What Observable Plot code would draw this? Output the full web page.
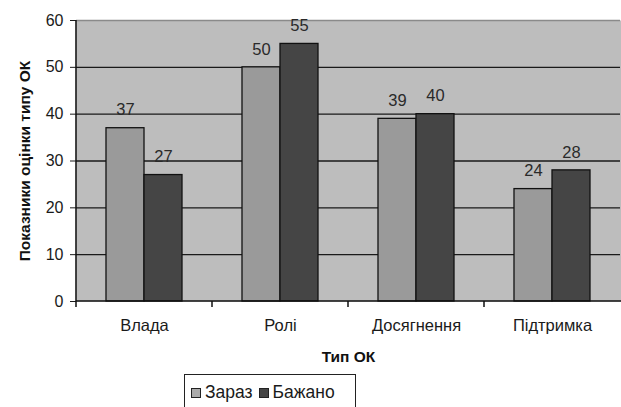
<!DOCTYPE html>
<html><head><meta charset="utf-8">
<script src="https://cdn.jsdelivr.net/npm/d3@7"></script>
<script src="https://cdn.jsdelivr.net/npm/@observablehq/plot@0.6"></script>
<style>
body{margin:0;background:#fff;font-family:"Liberation Sans",Arial,sans-serif;overflow:hidden;}
#chart svg{display:block;}
g[aria-label="fx-axis label"] text{font-weight:bold;font-size:15.5px;fill:#111;}
g[aria-label="y-axis label"] text{font-weight:bold;font-size:15.5px;fill:#111;}
#legend{position:absolute;left:184px;top:374px;width:172px;height:40px;border:1px solid #222;box-sizing:border-box;
  font-size:17.5px;color:#1a1a1a;display:flex;align-items:flex-start;padding:7px 0 0 6px;gap:2px;}
#legend span.item{display:flex;align-items:center;gap:4px;margin-right:4px;}
#legend span.sw{display:inline-block;width:8px;height:8px;border:1.5px solid #222;}
</style></head><body>
<div id="chart"></div>
<div id="legend"></div>
<script>
const categories = ["Влада", "Ролі", "Досягнення", "Підтримка"];
const seriesNames = ["Зараз", "Бажано"];
const zarazValues = [37, 50, 39, 24];
const bazhanoValues = [27, 55, 40, 28];
const yTicks = [0, 10, 20, 30, 40, 50, 60];
const seriesColors = ["#9a9a9a", "#454545"];

const data = categories.flatMap((c, i) => [
  {category: c, series: seriesNames[0], value: zarazValues[i]},
  {category: c, series: seriesNames[1], value: bazhanoValues[i]}
]);

const plot = Plot.plot({
  width: 621, height: 372,
  marginLeft: 74, marginRight: 0, marginTop: 20, marginBottom: 71,
  style: {fontFamily: "Liberation Sans, Arial, sans-serif", fontSize: "15px", color: "#1a1a1a", background: "#fff"},
  fx: {domain: categories, padding: 0},
  x: {domain: seriesNames, padding: 0, paddingOuter: 0.786, axis: null},
  y: {domain: [0, 60]},
  color: {domain: seriesNames, range: seriesColors},
  marks: [
    Plot.frame({fill: "#bdbdbd", stroke: null, insetLeft: -1, insetRight: -1}),
    Plot.gridY(yTicks.filter(d => d > 0 && d < 60), {stroke: "#1a1a1a", strokeOpacity: 1, strokeWidth: 1.3}),
    Plot.gridY([60], {stroke: "#8a8a8a", strokeOpacity: 1, strokeWidth: 1.3}),
    Plot.barY(data, {fx: "category", x: "series", y: "value", fill: "series", stroke: "#111", strokeWidth: 1.3}),
    Plot.text(data, {fx: "category", x: "series", y: "value", text: d => String(d.value), dy: -18, fontSize: 16.5, fill: "#2a2a2a"}),
    Plot.axisY(yTicks, {tickSize: 6, tickPadding: 7, fontSize: 16, fill: "#1a1a1a", label: "Показники оцінки типу ОК", labelAnchor: "center", labelOffset: 58, labelArrow: "none"}),
    Plot.axisFx({anchor: "bottom", tickSize: 0, tickPadding: 18, fontSize: 16.5, fill: "#1a1a1a", label: "Тип ОК", labelAnchor: "center", labelOffset: 60, labelArrow: "none"})
  ]
});
document.getElementById("chart").appendChild(plot);

// axis line and category boundary ticks (Excel style), from the plot's own scales
const fx = plot.scale("fx"), y = plot.scale("y");
const svg = d3.select(plot);
const y0 = y.apply(0), yTop = y.apply(60);
const x0 = fx.apply(categories[0]);
svg.append("line").attr("x1", x0).attr("x2", x0).attr("y1", yTop).attr("y2", y0 + 6).attr("stroke", "#111").attr("stroke-width", 1.5);
svg.append("line").attr("x1", x0).attr("x2", 621).attr("y1", y0).attr("y2", y0).attr("stroke", "#111").attr("stroke-width", 1.5);
categories.slice(1).forEach(c => {
  const xx = fx.apply(c);
  svg.append("line").attr("x1", xx).attr("x2", xx).attr("y1", y0).attr("y2", y0 + 6).attr("stroke", "#111").attr("stroke-width", 1.5);
});

const legend = d3.select("#legend");
seriesNames.forEach((s, i) => {
  const it = legend.append("span").attr("class", "item");
  it.append("span").attr("class", "sw").style("background", i === 0 ? "#aaaaaa" : "#454545");
  it.append("span").text(s);
});
</script>
</body></html>
